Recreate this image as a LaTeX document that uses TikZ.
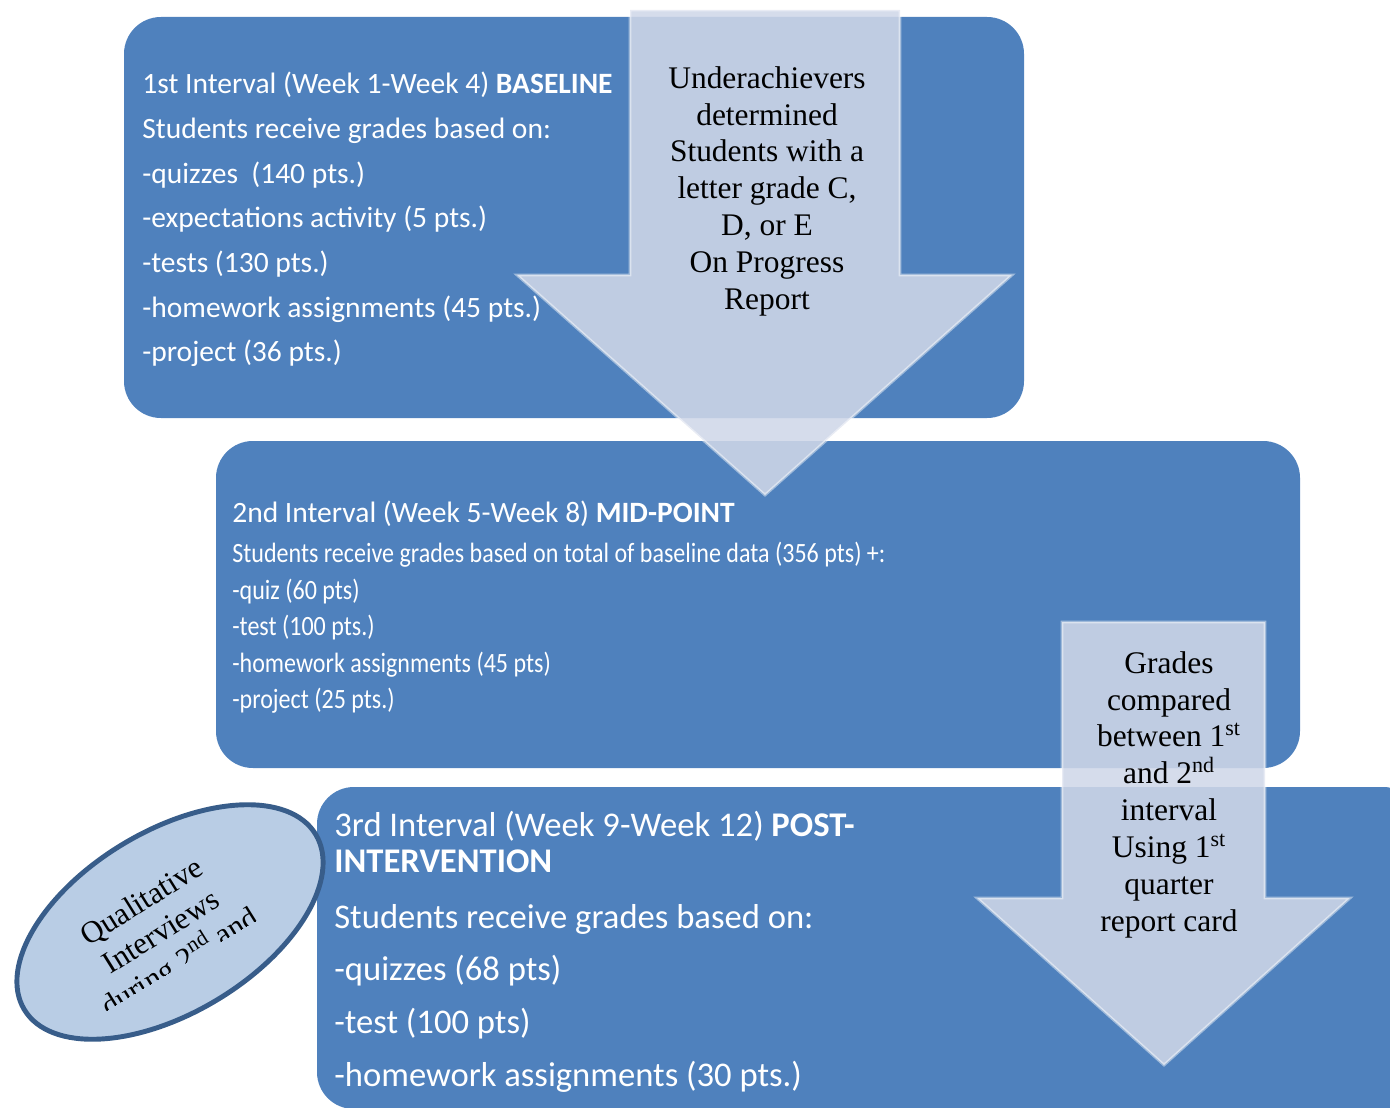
\documentclass[tikz,border=0pt]{standalone}
\usepackage{fontspec}
\setmainfont{Liberation Serif}
\newfontfamily\calfont{Carlito}
\newfontfamily\calcond[FakeStretch=0.86]{Carlito}
\definecolor{boxblue}{HTML}{4F81BD}
\definecolor{arrowfill}{HTML}{CFD7E8}
\definecolor{ovalfill}{HTML}{B9CDE5}
\definecolor{ovalline}{HTML}{385D8A}

\begin{document}
\begin{tikzpicture}
[x=0.02cm,y=-0.02cm,inner sep=0pt,
interval/.style={fill=boxblue,rounded corners=21pt},
bigarrow/.style={fill=arrowfill,fill opacity=0.88,draw=white,draw opacity=0.45,line width=1.6pt},
boxtext/.style={anchor=north west,align=left,text=white},
arrowtext/.style={anchor=north,align=center,font=\fontsize{17.9}{21}\selectfont},
oval/.style={fill=ovalfill,draw=ovalline,line width=2.8pt}]
\path[use as bounding box,clip] (0,0) rectangle (1390,1108);
% the three intervals
\fill[interval] (124,17) rectangle (1024,418);
\fill[interval] (216,441) rectangle (1300,768);
\fill[interval] (317,787) rectangle (1420,1109);
\node[boxtext,font=\calfont\fontsize{16.8}{25.4}\selectfont] (base) at (142,72)
 {1st Interval (Week 1-Week 4) \textbf{BASELINE}\\Students receive grades based on:\\-quizzes\ \ (140 pts.)\\-expectations activity (5 pts.)\\-tests (130 pts.)\\-homework assignments (45 pts.)\\-project (36 pts.)};
\node[boxtext,font=\calfont\fontsize{16.8}{25.4}\selectfont] (mid) at (232,501)
 {2nd Interval (Week 5-Week 8) \textbf{MID-POINT}};
\node[boxtext,font=\calcond\fontsize{15.9}{20.75}\selectfont] (midlist) at (232,542)
 {Students receive grades based on total of baseline data (356 pts) +:\\-quiz (60 pts)\\-test (100 pts.)\\-homework assignments (45 pts)\\-project (25 pts.)};
\node[boxtext,font=\calfont\fontsize{19.7}{20.4}\selectfont] (post) at (334,811)
 {3rd Interval (Week 9-Week 12) \textbf{POST-}\\\textbf{INTERVENTION}\\[11.3pt]Students receive grades based on:\\[9.6pt]-quizzes (68 pts)\\[9.6pt]-test (100 pts)\\[9.6pt]-homework assignments (30 pts.)};
% arrows
\path[bigarrow] (630,10) -- (900,10) -- (900,275) -- (1012,275) -- (765,495) -- (517,275) -- (630,275) -- cycle;
\path[bigarrow] (1062,622) -- (1265,622) -- (1265,898) -- (1350,898) -- (1164,1065) -- (977,898) -- (1062,898) -- cycle;
\node[arrowtext] (under) at (767,66)
 {Underachievers\\determined\\Students with a\\letter grade C,\\D, or E\\On Progress\\Report};
\node[arrowtext] (compare) at (1169,651)
 {Grades\\compared\\between 1\textsuperscript{st}\\and 2\textsuperscript{nd}\\interval\\Using 1\textsuperscript{st}\\quarter\\report card};
% interviews
\begin{scope}[shift={(170,922)},rotate=31,y=0.02cm]
\draw[oval] (0,0) ellipse [x radius=170, y radius=91];
\clip (-125,-43) rectangle (125,70);
\node[transform shape,rotate=1,align=center,font=\fontsize{17.6}{20.4}\selectfont] (qual) at (-13,-6)
 {Qualitative\\Interviews\\during 2\textsuperscript{nd} and};
\end{scope}
\end{tikzpicture}
\end{document}
